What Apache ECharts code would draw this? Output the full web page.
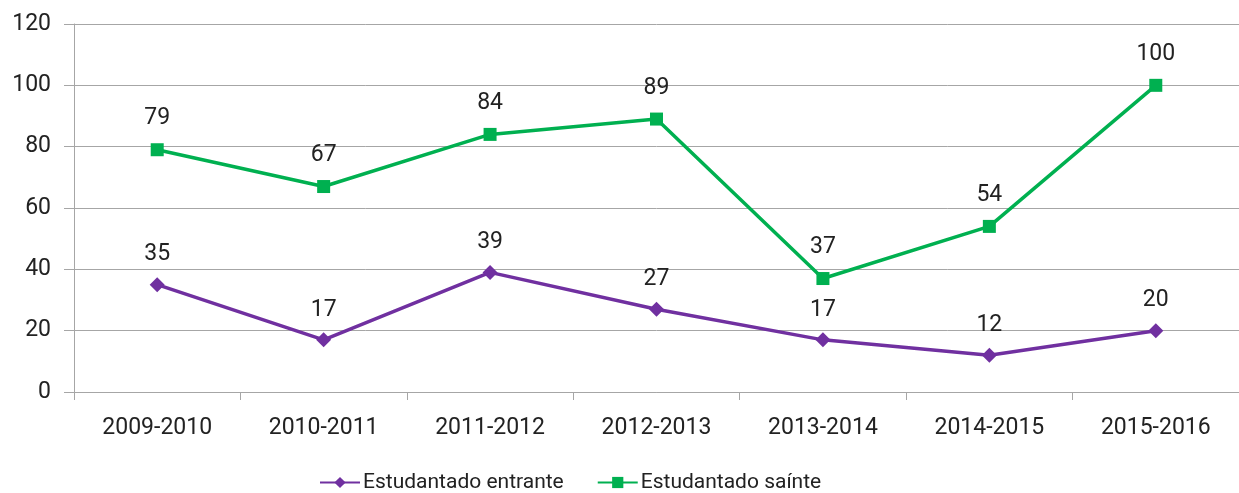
<!DOCTYPE html>
<html>
<head>
<meta charset="utf-8">
<script src="https://cdn.jsdelivr.net/npm/echarts@6/dist/echarts.min.js"></script>
<style>
  html, body { margin: 0; padding: 0; background: #fff; }
  #main { width: 1239px; height: 493px; }
</style>
</head>
<body>
<div id="main"></div>
<script>
var anos = ['2009-2010', '2010-2011', '2011-2012', '2012-2013', '2013-2014', '2014-2015', '2015-2016'];
var entrante = [35, 17, 39, 27, 17, 12, 20];
var sainte = [79, 67, 84, 89, 37, 54, 100];
var yTicks = [0, 20, 40, 60, 80, 100, 120];

var fonte = 'Roboto, "Noto Sans", sans-serif';
var cinza = '#a6a6a6';

var myChart = echarts.init(document.getElementById('main'));

var option = {
    animation: false,
    textStyle: { fontFamily: fonte },
    grid: { left: 74, top: 24, width: 1173, height: 368 },
    legend: {
        bottom: -5,
        left: 314,
        itemWidth: 40,
        itemHeight: 14,
        itemGap: 33,
        textStyle: { fontSize: 21, color: '#222', fontFamily: fonte, padding: [0, 0, 0, -2] },
        data: ['Estudantado entrante', 'Estudantado saínte']
    },
    xAxis: {
        type: 'category',
        data: anos,
        boundaryGap: true,
        axisLine: { lineStyle: { color: cinza, width: 1 } },
        axisTick: { show: true, length: 8, lineStyle: { color: cinza } },
        axisLabel: { fontSize: 23, color: '#222', margin: 25, fontFamily: fonte }
    },
    yAxis: {
        type: 'value',
        min: yTicks[0],
        max: yTicks[yTicks.length - 1],
        interval: 20,
        axisLine: { show: true, lineStyle: { color: cinza, width: 1 } },
        axisTick: { show: true, length: 10, lineStyle: { color: cinza } },
        splitLine: { lineStyle: { color: cinza, width: 1 } },
        axisLabel: { fontSize: 23, color: '#222', margin: 23, fontFamily: fonte }
    },
    series: [
        {
            name: 'Estudantado entrante',
            type: 'line',
            data: entrante,
            symbol: 'diamond',
            symbolSize: 15,
            itemStyle: { color: '#7030a0' },
            lineStyle: { color: '#7030a0', width: 3.5 },
            label: { show: true, position: 'top', distance: 11, fontSize: 23, color: '#222', fontFamily: fonte }
        },
        {
            name: 'Estudantado saínte',
            type: 'line',
            data: sainte,
            symbol: 'rect',
            symbolSize: 13,
            itemStyle: { color: '#00b050' },
            lineStyle: { color: '#00b050', width: 3.5 },
            label: { show: true, position: 'top', distance: 13, fontSize: 23, color: '#222', fontFamily: fonte }
        }
    ]
};

myChart.setOption(option);
</script>
</body>
</html>
